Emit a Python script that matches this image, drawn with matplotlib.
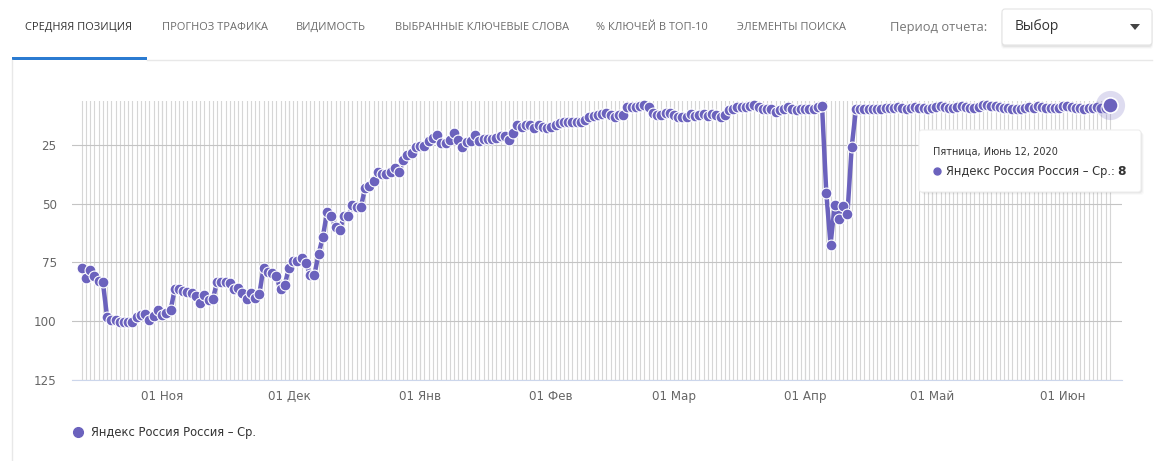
import matplotlib
matplotlib.use("Agg")
import matplotlib.pyplot as plt
from matplotlib.patches import Rectangle, FancyBboxPatch, Polygon
from matplotlib.lines import Line2D
import pandas as pd

W, H = 1159, 461

# average position per day, Oct 13 2019 .. Jun 12 2020
oct_pos = [77.3, 81.5, 78.4, 80.9, 82.8, 83.4, 98.2, 99.4, 99.5, 100.3,
           100.4, 100.4, 100.4, 98.4, 97.2, 97.1, 99.5, 98.0, 95.2]
nov_pos = [97.5, 96.7, 95.3, 86.5, 86.5, 87.3, 87.5, 88.1, 89.1, 92.2,
           89.0, 91.0, 90.5, 83.5, 83.5, 83.2, 83.7, 86.2, 86.0, 88.0,
           90.5, 88.0, 90.3, 88.3, 77.2, 79.2, 79.4, 81.0, 86.3, 84.5]
dec_pos = [77.2, 74.5, 74.5, 73.3, 75.2, 80.3, 80.3, 71.4, 64.2, 53.6,
           55.3, 60.0, 61.3, 55.3, 55.3, 50.6, 51.3, 51.3, 43.5, 42.6,
           40.3, 36.5, 37.4, 37.4, 36.5, 35.0, 36.5, 31.5, 29.4, 28.4, 26.1]
jan_pos = [25.5, 25.5, 23.3, 22.3, 20.9, 24.1, 24.1, 22.8, 20.1, 23.0,
           26.1, 24.0, 23.3, 20.9, 23.3, 22.6, 22.6, 22.6, 22.3, 21.4,
           21.4, 22.8, 20.1, 16.6, 17.4, 16.6, 16.6, 17.7, 16.6, 17.4, 17.7]
feb_pos = [17.4, 16.6, 15.9, 15.2, 15.2, 15.2, 15.5, 15.2, 14.5, 13.0,
           12.8, 12.3, 11.9, 11.3, 12.3, 13.3, 12.3, 12.3, 9.1, 9.1,
           9.1, 8.5, 8.1, 8.8, 11.3, 12.3, 12.3, 11.3, 11.3]
mar_pos = [12.3, 13.0, 13.0, 13.0, 11.9, 12.8, 12.3, 11.9, 12.8, 11.9,
           12.3, 13.0, 12.3, 10.2, 9.6, 9.1, 9.1, 9.1, 8.5, 8.1,
           8.8, 9.6, 9.6, 10.0, 10.9, 10.2, 9.6, 8.8, 10.0, 10.2, 9.6]
apr_pos = [9.6, 9.6, 9.6, 9.1, 8.5, 45.3, 67.5, 50.6, 56.5, 51.0,
           54.3, 26.1, 10.0, 10.0, 10.0, 10.0, 10.0, 9.8, 9.8, 9.5,
           9.3, 9.5, 9.0, 9.5, 9.7, 9.3, 8.8, 9.3, 9.5, 9.7]
may_pos = [9.5, 8.9, 8.7, 9.0, 9.5, 9.3, 8.9, 8.4, 9.0, 9.2,
           9.5, 8.8, 8.3, 8.2, 8.5, 8.4, 9.0, 9.2, 9.5, 9.7,
           9.8, 9.6, 9.4, 9.0, 9.2, 8.7, 9.0, 9.3, 9.5, 9.5, 9.2]
jun_pos = [8.7, 8.4, 8.8, 9.3, 9.5, 9.6, 9.5, 9.3, 9.0, 9.2, 9.3, 8.0]

positions = oct_pos + nov_pos + dec_pos + jan_pos + feb_pos + mar_pos + apr_pos + may_pos + jun_pos
dates = pd.date_range("2019-10-13", "2020-06-12", freq="D")

month_ticks = pd.to_datetime(["2019-11-01", "2019-12-01", "2020-01-01", "2020-02-01",
                              "2020-03-01", "2020-04-01", "2020-05-01", "2020-06-01"])
month_labels = ["01 Ноя", "01 Дек", "01 Янв", "01 Фев", "01 Мар", "01 Апр", "01 Май", "01 Июн"]
y_ticks = [25, 50, 75, 100, 125]

tabs = ["СРЕДНЯЯ ПОЗИЦИЯ", "ПРОГНОЗ ТРАФИКА", "ВИДИМОСТЬ", "ВЫБРАННЫЕ КЛЮЧЕВЫЕ СЛОВА",
        "% КЛЮЧЕЙ В ТОП-10", "ЭЛЕМЕНТЫ ПОИСКА"]
tab_x = [25, 162, 296, 395, 596, 737]
series_name = "Яндекс Россия Россия – Ср."
tooltip_date = "Пятница, Июнь 12, 2020"

purple = "#6b62bd"
ui_font = ["Open Sans", "DejaVu Sans"]


def fx(px):
    return px / W


def fy(py):
    return 1 - py / H


def inch(px, py):
    return px / 100, (H - py) / 100


fig = plt.figure(figsize=(W / 100, H / 100), dpi=100)
fig.patch.set_facecolor("white")

# header with tabs
for i, (t, x) in enumerate(zip(tabs, tab_x)):
    fig.text(fx(x), fy(27), t, fontsize=7.9, family=ui_font, va="center", ha="left",
             color="#333333" if i == 0 else "#6b6b6b")
fig.add_artist(Rectangle(inch(12, 60), 1.35, 0.03, transform=fig.dpi_scale_trans,
                         color="#2b7bd1", lw=0))
fig.add_artist(Line2D([fx(147), fx(1152)], [fy(60), fy(60)], color="#e8e8e8", lw=1))
fig.add_artist(Line2D([fx(12), fx(12)], [fy(60), 0], color="#e8e8e8", lw=1))

fig.text(fx(890), fy(27), "Период отчета:", fontsize=9.3, family=ui_font,
         va="center", color="#777777")
for k, a in zip(range(3), [0.05, 0.035, 0.02]):
    fig.add_artist(FancyBboxPatch(inch(1002 - k * 0.5, 47 + k), 1.5 + k * 0.01, 0.37,
                                  boxstyle="round,pad=0,rounding_size=0.03",
                                  transform=fig.dpi_scale_trans, fc="black", alpha=a, lw=0))
fig.add_artist(FancyBboxPatch(inch(1002, 45), 1.5, 0.36, boxstyle="round,pad=0,rounding_size=0.03",
                              transform=fig.dpi_scale_trans, fc="white", ec="#e4e4e4", lw=0.8))
fig.text(fx(1015), fy(27), "Выбор", fontsize=10, family=ui_font, va="center", color="#333333")
fig.add_artist(Polygon([inch(1130, 24), inch(1140, 24), inch(1135, 30)], closed=True,
                       transform=fig.dpi_scale_trans, fc="#444444", lw=0))

# chart
ax = fig.add_axes([fx(72), fy(380), fx(1122) - fx(72), fy(101) - fy(380)])
ax.set_facecolor("white")
ax.plot(dates, positions, color=purple, lw=3.2, marker="o", ms=7.8, mfc=purple,
        mec="white", mew=0.8, solid_joinstyle="round", zorder=3, clip_on=False)
ax.plot(dates[-1:], positions[-1:], "o", ms=21, color=purple, alpha=0.22, mew=0, zorder=4,
        clip_on=False)
ax.plot(dates[-1:], positions[-1:], "o", ms=11, mfc=purple, mec="white", mew=1.2, zorder=5,
        clip_on=False)

ax.set_xlim(dates[0] - pd.Timedelta(hours=55), dates[0] + pd.Timedelta(hours=24 * 245.9))
ax.set_ylim(125, 6.4)
ax.set_yticks(y_ticks)
ax.set_xticks(month_ticks)
ax.set_xticklabels(month_labels)
ax.set_xticks(dates, minor=True)
ax.xaxis.remove_overlapping_locs = False
ax.grid(True, axis="x", which="both", color="#d6d6d6", lw=0.8)
ax.grid(True, axis="y", which="major", color="#c4c4c4", lw=0.8)
ax.set_axisbelow(True)
for s in ["top", "right", "left"]:
    ax.spines[s].set_visible(False)
ax.spines["bottom"].set_color("#ccd6eb")
ax.tick_params(axis="both", which="both", length=0, labelsize=8.6, labelcolor="#666666")
ax.tick_params(axis="y", pad=11)
ax.tick_params(axis="x", pad=7)

# tooltip
for k, a in zip(range(1, 4), [0.05, 0.035, 0.02]):
    fig.add_artist(FancyBboxPatch(inch(919 + k, 192 + k), 2.22, 0.62,
                                  boxstyle="round,pad=0,rounding_size=0.03",
                                  transform=fig.dpi_scale_trans, fc="black", alpha=a, lw=0))
fig.add_artist(FancyBboxPatch(inch(919, 192), 2.22, 0.62, boxstyle="round,pad=0,rounding_size=0.03",
                              transform=fig.dpi_scale_trans, fc="white", ec="#eeeeee", lw=0.8))
fig.text(fx(933), fy(152), tooltip_date, fontsize=7, color="#333333", va="center")
fig.add_artist(Line2D([fx(937)], [fy(171)], marker="o", ms=5, color=purple, lw=0))
fig.text(fx(946), fy(171), series_name + ":", fontsize=8.3, color="#333333", va="center")
fig.text(fx(1126), fy(171), "%d" % round(positions[-1]), fontsize=8.8, color="#333333",
         va="center", ha="right", fontweight="bold")

# legend
fig.add_artist(Line2D([fx(78)], [fy(432)], marker="o", ms=7, color=purple, lw=0))
fig.text(fx(91), fy(432), series_name, fontsize=8.3, color="#333333", va="center")

fig.savefig("out.png", dpi=100)
